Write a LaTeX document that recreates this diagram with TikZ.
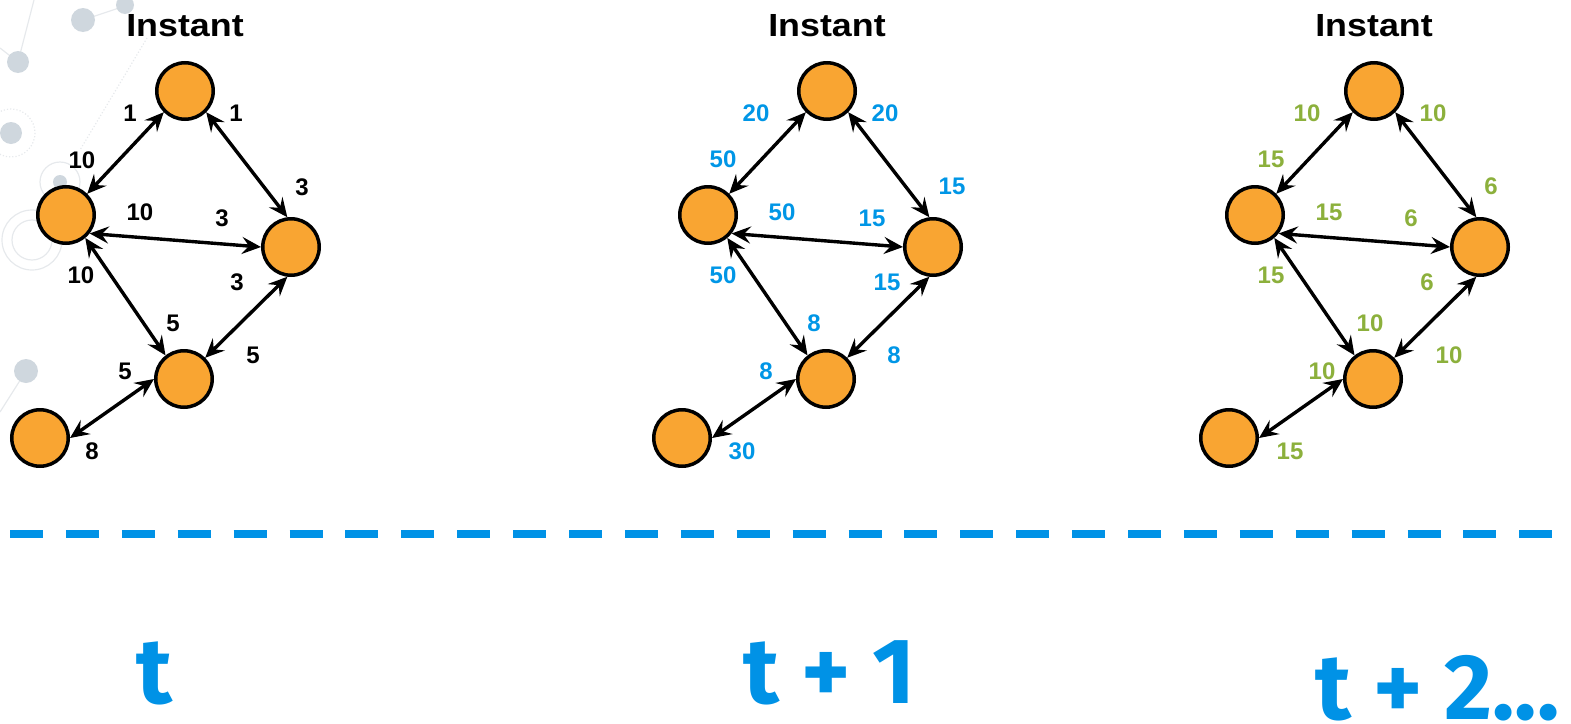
\documentclass[tikz,border=0pt]{standalone}
\usepackage{fontspec}
\setmainfont{Liberation Sans}
\newfontfamily\tfont{Fira Sans}
\newfontfamily\ttlfont{Liberation Sans}[FakeStretch=1.12]
\usetikzlibrary{arrows.meta}
\definecolor{nodeor}{HTML}{F9A532}
\definecolor{lblue}{HTML}{0096E6}
\definecolor{lgreen}{HTML}{8CB03C}
\definecolor{dblue}{HTML}{0092E6}
\definecolor{bgdot}{HTML}{CFD7DE}
\definecolor{bgline}{HTML}{E6E9EC}
\newcommand\drawgraph[2]{%
 \begin{scope}[xshift=#2pt]
  \node[nd] (#1t) at (185,91) {};
  \node[nd] (#1l) at (66,215) {};
  \node[nd] (#1r) at (291,247) {};
  \node[nd] (#1b) at (184,379) {};
  \node[nd] (#1x) at (40,438) {};
  \draw[edge] (#1t.225) -- (#1l.45);
  \draw[edge] (#1t.-45) -- (#1r.97);
  \draw[edge] (#1l.-38) -- (#1r.west);
  \draw[edge] (#1l.-50) -- (#1b.128);
  \draw[edge] (#1r.-97) -- (#1b.45);
  \draw[edge] (#1b.west) -- (#1x.east);
  \node[ttl] (#1title) at (185,36) {Instant};
 \end{scope}}
\begin{document}
\begin{tikzpicture}[x=1pt,y=-1pt,
  nd/.style={circle, fill=nodeor, draw=black, line width=3.5pt, minimum size=56.5pt, inner sep=0pt},
  edge/.style={line width=3.4pt, {Stealth[length=19pt,width=17pt,inset=7pt]}-{Stealth[length=19pt,width=17pt,inset=7pt]}},
  lbl/.style={font=\fontsize{24}{24}\selectfont\bfseries, inner sep=0pt},
  ttl/.style={font=\ttlfont\fontsize{32}{32}\selectfont\bfseries, inner sep=0pt, anchor=base},
  big/.style={font=\tfont\fontsize{93}{93}\selectfont\bfseries, text=dblue, inner sep=0pt, text depth=0pt, anchor=base west},
  bgd/.style={fill=bgdot, draw=none},
  bgl/.style={draw=bgline, line width=1.2pt},
  dashline/.style={draw=dblue, line width=8pt, dash pattern=on 33pt off 22.9pt}
]
\useasboundingbox (0,0) rectangle (1571,723);
% faint background network
\draw[bgl] (18,62) -- (34,0);
\draw[bgl] (18,62) -- (0,48);
\draw[bgl] (83,20) -- (125,6);
\draw[bgl] (26,371) -- (0,412);
\draw[bgl, dotted] (147,38) -- (80,150);
\draw[bgl] (32,240) circle (20);
\draw[bgl] (32,240) circle (30);
\draw[bgl, dotted] (11,133) circle (24);
\draw[bgl] (60,182) circle (20);
\fill[bgd] (83,20) circle (12);
\fill[bgd] (18,62) circle (11);
\fill[bgd] (11,133) circle (11);
\fill[bgd] (60,182) circle (7);
\fill[bgd] (125,5) circle (9);
\fill[bgd] (26,371) circle (12);
% graphs
\drawgraph{a}{0}
\drawgraph{b}{642}
\drawgraph{c}{1189}
% labels graph 1
\begin{scope}[every node/.style={lbl, text=black}]
\node (a1) at (130,113) {1};
\node (a2) at (236,113) {1};
\node (a3) at (82,160) {10};
\node (a4) at (302,187) {3};
\node (a5) at (140,212) {10};
\node (a6) at (222,218) {3};
\node (a7) at (81,275) {10};
\node (a8) at (237,282) {3};
\node (a9) at (173,323) {5};
\node (a10) at (125,371) {5};
\node (a11) at (253,355) {5};
\node (a12) at (92,451) {8};
\end{scope}
\begin{scope}[every node/.style={lbl, text=lblue}]
\node (b1) at (756,113) {20};
\node (b2) at (885,113) {20};
\node (b3) at (723,159) {50};
\node (b4) at (952,186) {15};
\node (b5) at (782,212) {50};
\node (b6) at (872,218) {15};
\node (b7) at (723,275) {50};
\node (b8) at (887,282) {15};
\node (b9) at (814,323) {8};
\node (b10) at (766,371) {8};
\node (b11) at (894,355) {8};
\node (b12) at (742,451) {30};
\end{scope}
\begin{scope}[every node/.style={lbl, text=lgreen}]
\node (c1) at (1307,113) {10};
\node (c2) at (1433,113) {10};
\node (c3) at (1271,159) {15};
\node (c4) at (1491,186) {6};
\node (c5) at (1329,212) {15};
\node (c6) at (1411,218) {6};
\node (c7) at (1271,275) {15};
\node (c8) at (1427,282) {6};
\node (c9) at (1370,323) {10};
\node (c10) at (1322,371) {10};
\node (c11) at (1449,355) {10};
\node (c12) at (1290,451) {15};
\end{scope}
% timeline
\coordinate (dl) at (10,534);
\coordinate (dr) at (1556,534);
\draw[dashline] (dl) -- (dr);
\node[big] (t0) at (136,703) {t};
\node[big] (t1) at (743,703) {t + 1};
\node[big] (t2) at (1315,719) {t + 2...};
\end{tikzpicture}
\end{document}
